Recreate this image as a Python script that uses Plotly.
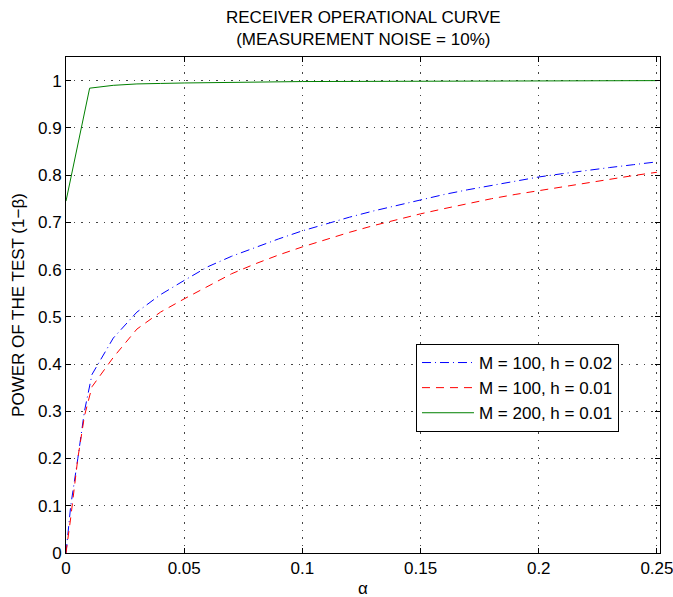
import plotly.graph_objects as go

# ---- data ----
alpha_green = [0, 0.01, 0.02, 0.03, 0.04, 0.05, 0.1, 0.15, 0.2, 0.25]
power_green = [0.745, 0.984, 0.990, 0.993, 0.994, 0.995, 0.998, 0.999, 1.0, 1.0]

alpha_curve = [0, 0.002, 0.005, 0.0078, 0.011, 0.02, 0.03, 0.04, 0.05, 0.06, 0.07, 0.08,
               0.09, 0.10, 0.11, 0.12, 0.13, 0.14, 0.15, 0.16, 0.17, 0.18, 0.19,
               0.20, 0.21, 0.22, 0.23, 0.24, 0.25]
power_blue = [0.0, 0.10, 0.20, 0.30, 0.378, 0.455, 0.510, 0.547, 0.577, 0.606, 0.628, 0.647,
              0.665, 0.682, 0.697, 0.711, 0.724, 0.736, 0.748, 0.759, 0.769, 0.778, 0.787,
              0.796, 0.803, 0.810, 0.816, 0.822, 0.828]
power_red = [0.0, 0.075, 0.20, 0.29, 0.352, 0.414, 0.474, 0.510, 0.538, 0.565, 0.591, 0.612,
             0.631, 0.648, 0.664, 0.679, 0.693, 0.706, 0.718, 0.729, 0.740, 0.750, 0.759,
             0.767, 0.776, 0.784, 0.792, 0.799, 0.806]

series_names = ["M = 100, h = 0.02", "M = 100, h = 0.01", "M = 200, h = 0.01"]

x_ticks = [0, 0.05, 0.1, 0.15, 0.2, 0.25]
x_tick_labels = ["0", "0.05", "0.1", "0.15", "0.2", "0.25"]
y_ticks = [0, 0.1, 0.2, 0.3, 0.4, 0.5, 0.6, 0.7, 0.8, 0.9, 1.0]
y_tick_labels = ["0", "0.1", "0.2", "0.3", "0.4", "0.5", "0.6", "0.7", "0.8", "0.9", "1"]

title_text = "RECEIVER OPERATIONAL CURVE<br>(MEASUREMENT NOISE = 10%)"
x_title = "α"
y_title = "POWER OF THE TEST (1−β)"

FONT = "Liberation Sans, Arial, Helvetica, sans-serif"
FS = 17

fig = go.Figure()
fig.add_trace(go.Scatter(x=alpha_curve, y=power_blue, mode="lines", name=series_names[0],
                         legendgroup="a",
                         line=dict(color="#0000ff", width=1, dash="9px,4px,1px,4px")))
fig.add_trace(go.Scatter(x=alpha_curve, y=power_red, mode="lines", name=series_names[1],
                         legendgroup="b",
                         line=dict(color="#ff0000", width=1, dash="8px,6px")))
fig.add_trace(go.Scatter(x=alpha_green, y=power_green, mode="lines", name=series_names[2],
                         legendgroup="c",
                         line=dict(color="#008000", width=1)))

axis_common = dict(
    showline=True, linecolor="black", linewidth=1, mirror="allticks",
    ticks="inside", ticklen=5, tickcolor="black",
    showgrid=True, gridcolor="#444444", gridwidth=1, griddash="1.5px,6px",
    zeroline=False, automargin=False, ticklabeloverflow="allow",
    tickfont=dict(family=FONT, size=FS, color="black"),
)

fig.update_layout(
    width=673, height=597,
    paper_bgcolor="white", plot_bgcolor="white",
    margin=dict(l=66, r=13, t=57, b=44),
    font=dict(family=FONT, size=FS, color="black"),
    xaxis=dict(range=[0, 0.2513], tickvals=x_ticks, ticktext=x_tick_labels,
               **axis_common),
    yaxis=dict(range=[0, 1.05], tickvals=y_ticks, ticktext=y_tick_labels,
               **axis_common),
    legend=dict(x=0.5892, y=0.4214, xanchor="left", yanchor="top",
                bgcolor="white", bordercolor="black", borderwidth=1,
                font=dict(family=FONT, size=FS, color="black"),
                itemwidth=52, tracegroupgap=7, traceorder="normal"),
    showlegend=True,
    annotations=[
        dict(text=title_text, xref="paper", yref="paper", x=0.5, y=1.0565,
             xanchor="center", yanchor="middle", showarrow=False,
             font=dict(family=FONT, size=FS, color="black")),
        dict(text=x_title, xref="paper", yref="paper", x=0.5, y=-0.071,
             xanchor="center", yanchor="middle", showarrow=False,
             font=dict(family=FONT, size=FS, color="black")),
        dict(text=y_title, xref="paper", yref="paper", x=-0.081, y=0.5,
             xanchor="center", yanchor="middle", textangle=-90, showarrow=False,
             font=dict(family=FONT, size=FS, color="black")),
    ],
)

fig.write_html("out.html", config={"displayModeBar": False},
               post_script="document.body.style.margin='0';document.body.style.padding='0';")
